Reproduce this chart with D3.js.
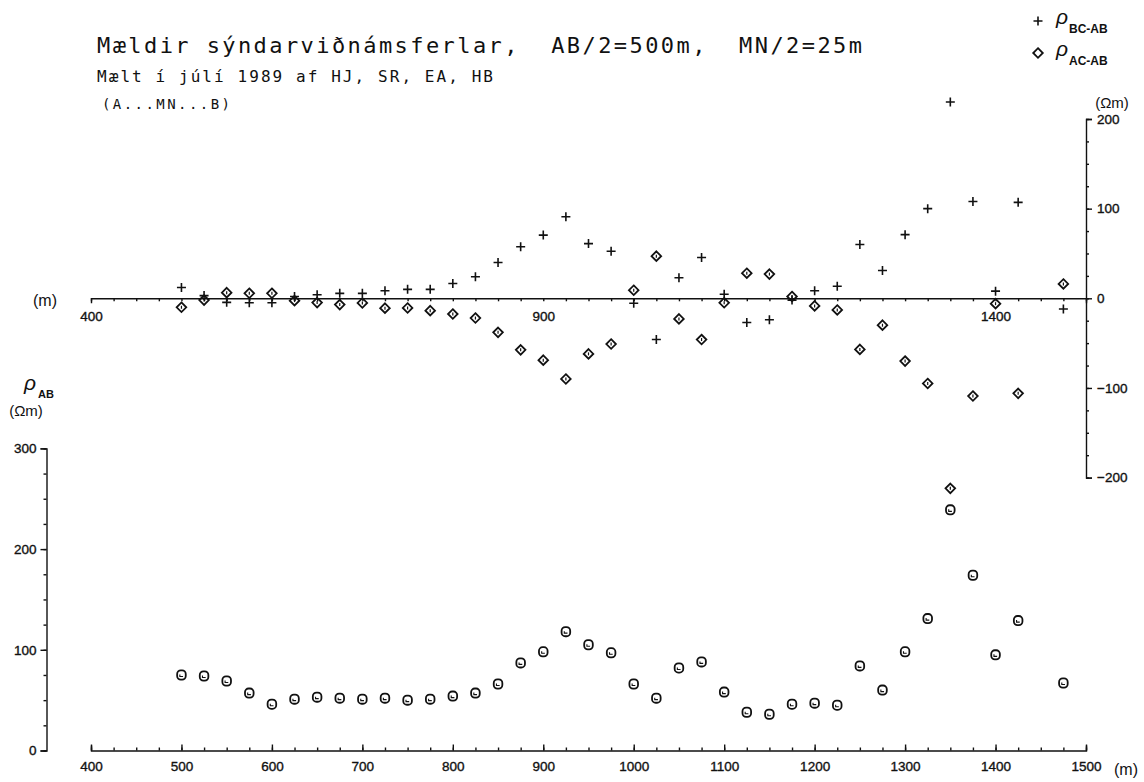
<!DOCTYPE html>
<html>
<head>
<meta charset="utf-8">
<script src="https://cdn.jsdelivr.net/npm/d3@7"></script>
<style>
  body { margin: 0; background: #fff; }
  text { font-family: "Liberation Sans", Arial, sans-serif; fill: #111; }
  .axis path, .axis line { stroke: #111; stroke-width: 1.4; fill: none; }
  .axis text { font-size: 13.5px; stroke: #111; stroke-width: 0.35; }
  .plot { font-family: "DejaVu Sans Mono", monospace; }
</style>
</head>
<body>
<svg width="1144" height="782"></svg>
<script>
// AB/2 positions (m) – 1450 was not measured
const positions = [500, 525, 550, 575, 600, 625, 650, 675, 700, 725, 750, 775, 800, 825, 850,
  875, 900, 925, 950, 975, 1000, 1025, 1050, 1075, 1100, 1125, 1150, 1175, 1200, 1225,
  1250, 1275, 1300, 1325, 1350, 1375, 1400, 1425, 1475]

// apparent resistivity rho_AB (Ohm m)
const rhoAB = [75, 74, 69, 57, 46, 51, 53, 52, 51, 52, 50, 51, 54, 57, 66,
  87, 98, 118, 105, 97, 66, 52, 82, 88, 58, 38, 36, 46, 47, 45,
  84, 60, 98, 131, 239, 174, 95, 129, 67]

// rho_BC - rho_AB
const rhoBC = [12, 3, -4.5, -5, -5, 2, 4, 5.5, 5.5, 8.5, 10, 10, 16.5, 24, 40,
  57.5, 70.5, 91, 61, 52.5, -5.5, -46, 23, 45.5, 4.5, -27, -24, -2, 8.5, 13.5,
  60, 31, 71, 100, 219, 108, 8, 107, -12]

// rho_AC - rho_AB
const rhoAC = [-10, -2, 6.3, 5.6, 5.6, -2.6, -4.8, -7, -5.2, -11, -10.8, -13.8, -17.5, -22, -38,
  -57.5, -69, -90, -62, -51, 9, 47, -23, -46, -5, 28, 27, 2, -8.5, -13,
  -57, -30, -70, -95, -212, -109, -6, -106, 16]

const lowerXTicks = [400, 500, 600, 700, 800, 900, 1000, 1100, 1200, 1300, 1400, 1500]
const upperXTicks = [400, 900, 1400]
const upperYTicks = [-200, -100, 0, 100, 200]
const lowerYTicks = [0, 100, 200, 300]

const svg = d3.select("svg")

const x = d3.scaleLinear().domain([400, 1500]).range([91, 1086])
const yUp = d3.scaleLinear().domain([-200, 200]).range([477.6, 119])
const yLow = d3.scaleLinear().domain([0, 300]).range([750.5, 448.4])

const minor = d3.range(400, 1501, 25)
const fmt = d3.format("d")

// ---- upper x axis (zero line)
const gUx = svg.append("g").attr("class", "axis")
  .attr("transform", "translate(0," + yUp(0) + ")")
gUx.call(d3.axisBottom(x).tickValues(minor).tickSize(3).tickSizeOuter(5).tickFormat(""))
gUx.append("g").call(d3.axisBottom(x).tickValues(upperXTicks).tickSize(0).tickPadding(13).tickFormat(fmt))
  .call(g => g.select(".domain").remove())

// ---- right y axis of the upper plot
const gUy = svg.append("g").attr("class", "axis")
  .attr("transform", "translate(" + x(1500) + ",0)")
gUy.call(d3.axisRight(yUp).tickValues(d3.range(-200, 201, 25)).tickSize(3).tickSizeOuter(6).tickFormat(""))
gUy.append("g").call(d3.axisRight(yUp).tickValues(upperYTicks).tickSize(6).tickPadding(5)
  .tickFormat(d => d < 0 ? "\u2212" + (-d) : d))
  .call(g => g.select(".domain").remove())

// ---- lower x axis
const gLx = svg.append("g").attr("class", "axis")
  .attr("transform", "translate(0," + yLow(0) + ")")
gLx.call(d3.axisBottom(x).tickValues(minor).tickSize(-3).tickSizeOuter(-5).tickFormat(""))
gLx.append("g").call(d3.axisBottom(x).tickValues(lowerXTicks).tickSize(-6).tickPadding(11).tickFormat(fmt))
  .call(g => g.select(".domain").remove())

// ---- lower y axis
const gLy = svg.append("g").attr("class", "axis")
  .attr("transform", "translate(46.5,0)")
gLy.call(d3.axisLeft(yLow).tickValues(d3.range(0, 301, 25)).tickSize(3).tickSizeOuter(6).tickFormat(""))
gLy.append("g").call(d3.axisLeft(yLow).tickValues(lowerYTicks).tickSize(6).tickPadding(4).tickFormat(fmt))
  .call(g => g.select(".domain").remove())

// ---- markers
const plus = "M-4.5,0H4.5M0,-4.5V4.5"
const diamond = "M0,-4.8L4.8,0L0,4.8L-4.8,0Z"

svg.append("g").selectAll("path.bc")
  .data(positions)
  .join("path")
  .attr("class", "bc")
  .attr("transform", (d, i) => "translate(" + x(d) + "," + yUp(rhoBC[i]) + ")")
  .attr("d", plus)
  .attr("stroke", "#111").attr("stroke-width", 1.6).attr("fill", "none")

const ac = svg.append("g").selectAll("g")
  .data(positions)
  .join("g")
  .attr("transform", (d, i) => "translate(" + x(d) + "," + yUp(rhoAC[i]) + ")")
ac.append("path").attr("d", diamond)
  .attr("stroke", "#111").attr("stroke-width", 1.8).attr("fill", "none")
ac.append("path").attr("d", "M0,-1.5V1.5")
  .attr("stroke", "#111").attr("stroke-width", 1.2)

const ab = svg.append("g").selectAll("g")
  .data(positions)
  .join("g")
  .attr("transform", (d, i) => "translate(" + x(d) + "," + yLow(rhoAB[i]) + ")")
ab.append("rect").attr("x", -4.3).attr("y", -4.6).attr("width", 8.6).attr("height", 9.2).attr("rx", 3.6)
  .attr("stroke", "#111").attr("stroke-width", 1.8).attr("fill", "none")
ab.append("path").attr("d", "M-1.6,-0.5V1.5H1.6")
  .attr("stroke", "#111").attr("stroke-width", 1.1).attr("fill", "none")

// ---- titles
svg.append("text").attr("class", "plot").attr("x", 97).attr("y", 53)
  .attr("font-size", 22).attr("textLength", 765).attr("lengthAdjust", "spacing")
  .attr("xml:space", "preserve")
  .text("Mældir sýndarviðnámsferlar,  AB/2=500m,  MN/2=25m")
svg.append("text").attr("class", "plot").attr("x", 97).attr("y", 82)
  .attr("font-size", 16).attr("textLength", 396).attr("lengthAdjust", "spacing")
  .text("Mælt í júlí 1989 af HJ, SR, EA, HB")
svg.append("text").attr("class", "plot").attr("x", 102).attr("y", 109)
  .attr("font-size", 14).attr("textLength", 128).attr("lengthAdjust", "spacing")
  .text("(A...MN...B)")

// ---- unit labels
svg.append("text").attr("x", 45).attr("y", 306).attr("text-anchor", "middle")
  .attr("font-size", 16).text("(m)")
svg.append("text").attr("x", 1126).attr("y", 775).attr("text-anchor", "middle")
  .attr("font-size", 16).text("(m)")
svg.append("text").attr("x", 1112).attr("y", 108).attr("text-anchor", "middle")
  .attr("font-size", 15).text("(Ωm)")
svg.append("text").attr("x", 26).attr("y", 416).attr("text-anchor", "middle")
  .attr("font-size", 15).text("(Ωm)")

// rho_AB label
const rl = svg.append("text").attr("x", 24).attr("y", 390)
rl.append("tspan").attr("font-size", 21).attr("font-style", "italic").text("ρ")
rl.append("tspan").attr("font-size", 11).attr("font-weight", "bold").attr("dx", 2).attr("dy", 8).text("AB")

// ---- legend
const legend = [
  { sym: "plus", sub: "BC-AB", y: 21 },
  { sym: "diamond", sub: "AC-AB", y: 53 }
]
legend.forEach(l => {
  svg.append("path").attr("transform", "translate(1038," + l.y + ")")
    .attr("d", l.sym === "plus" ? plus : diamond)
    .attr("stroke", "#111").attr("stroke-width", l.sym === "plus" ? 1.6 : 1.8).attr("fill", "none")
  const t = svg.append("text").attr("x", 1056).attr("y", l.y + 3)
  t.append("tspan").attr("font-size", 21).attr("font-style", "italic").text("ρ")
  t.append("tspan").attr("font-size", 12).attr("font-weight", "bold").attr("dx", 1).attr("dy", 9).text(l.sub)
})
</script>
</body>
</html>
